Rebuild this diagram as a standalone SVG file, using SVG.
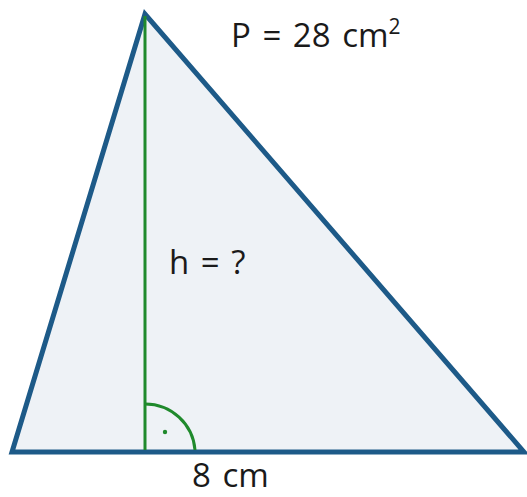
<svg xmlns="http://www.w3.org/2000/svg" width="527" height="497" viewBox="0 0 527 497">
<style>
.lbl{font-family:"Open Sans","Noto Sans","Liberation Sans",sans-serif;fill:#1a1a1a;font-size:33px;word-spacing:3px}
.tri{fill:#eef2f6;stroke:#1d5a88;stroke-width:5;stroke-linejoin:miter}
.g{fill:none;stroke:#1f8a2c;stroke-width:3}
</style>
<rect width="527" height="497" fill="#ffffff"/>
<g id="triangle">
<polygon class="tri" points="145,14 12,452 524,452"/>
</g>
<g id="connectors">
<line class="g" x1="145" y1="16" x2="145" y2="450"/>
<path class="g" d="M145,404 A50,50 0 0 1 195,450"/>
<circle cx="165" cy="432" r="2.2" fill="#1f8a2c"/>
</g>
<g id="labels">
<text class="lbl" x="231" y="47">P = 28 cm<tspan font-size="21" dy="-13">2</tspan></text>
<text class="lbl" x="169" y="274">h = ?</text>
<text class="lbl" x="192" y="487" font-size="32">8 cm</text>
</g>
</svg>
